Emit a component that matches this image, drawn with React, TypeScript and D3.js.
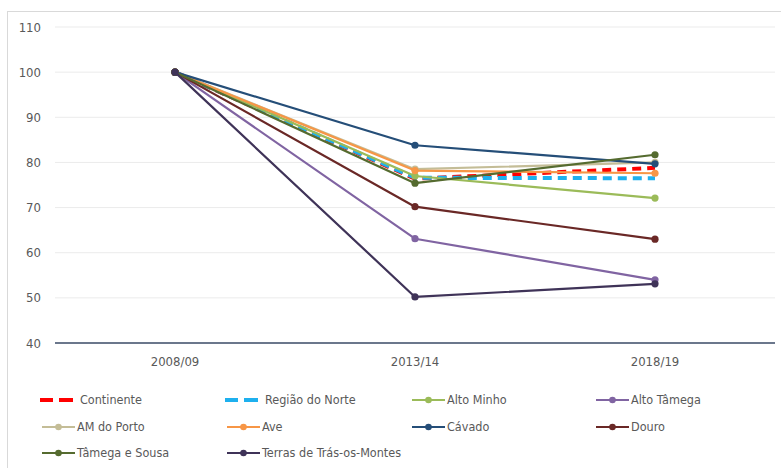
import React from "react";
import * as d3 from "d3";

// Index (2008/09 = 100) by NUTS III region
const periods = ["2008/09", "2013/14", "2018/19"];

const seriesNames = [
  "Continente",
  "Região do Norte",
  "Alto Minho",
  "Alto Tâmega",
  "AM do Porto",
  "Ave",
  "Cávado",
  "Douro",
  "Tâmega e Sousa",
  "Terras de Trás-os-Montes",
];

const continente = [100, 76.4, 78.8];
const regiaoNorte = [100, 76.6, 76.5];
const altoMinho = [100, 77.0, 72.1];
const altoTamega = [100, 63.1, 54.0];
const amPorto = [100, 78.5, 80.0];
const ave = [100, 78.2, 77.6];
const cavado = [100, 83.8, 79.7];
const douro = [100, 70.2, 63.0];
const tamegaSousa = [100, 75.4, 81.7];
const terras = [100, 50.2, 53.1];

const seriesValues = [
  continente,
  regiaoNorte,
  altoMinho,
  altoTamega,
  amPorto,
  ave,
  cavado,
  douro,
  tamegaSousa,
  terras,
];

const seriesColors = [
  "#FF0000",
  "#1EB0EE",
  "#9BBB59",
  "#8064A2",
  "#C4BD97",
  "#F79646",
  "#254E78",
  "#6A2826",
  "#556B2F",
  "#3F3358",
];

const dashedSeries = [true, true, false, false, false, false, false, false, false, false];

const yTicks = [40, 50, 60, 70, 80, 90, 100, 110];

const W = 781;
const H = 468;
const FONT = "'Liberation Sans Narrow', 'DejaVu Sans Condensed', 'Roboto', sans-serif";
const TEXT = "#595959";

export default function App() {
  const x = d3.scaleBand<string>().domain(periods).range([55, 775]);
  const y = d3.scaleLinear().domain([40, 110]).range([343, 27]);
  const cx = (p: string) => (x(p) as number) + x.bandwidth() / 2;

  const line = d3
    .line<number>()
    .x((_, i) => cx(periods[i]))
    .y((v) => y(v));

  const legendCols = [40, 225, 410, 594];
  const legendRows = [400, 427, 453];

  return (
    <svg
      width={W}
      height={H}
      style={{ position: "absolute", left: 0, top: 0, background: "#fff" }}
      fontFamily={FONT}
    >
      <rect x={7.5} y={11.5} width={800} height={470} fill="#fff" stroke="#D9D9D9" strokeWidth={1} />

      {yTicks.map((t) => (
        <g key={t}>
          {t > 40 && (
            <line x1={55} x2={775} y1={y(t)} y2={y(t)} stroke="#EBEBEB" strokeWidth={1} />
          )}
          <text x={41} y={y(t)} dy="0.35em" textAnchor="end" fontSize={13} fill={TEXT}>
            {t}
          </text>
        </g>
      ))}

      <line x1={55} x2={775} y1={y(40)} y2={y(40)} stroke="#3A4A66" strokeWidth={1.3} />

      {periods.map((p) => (
        <text key={p} x={cx(p)} y={366} textAnchor="middle" fontSize={13} fill={TEXT}>
          {p}
        </text>
      ))}

      {seriesValues.map((vals, i) => {
        const dashed = dashedSeries[i];
        return (
          <g key={seriesNames[i]}>
            <path
              d={line(vals) as string}
              fill="none"
              stroke={seriesColors[i]}
              strokeWidth={dashed ? 4 : 2.2}
              strokeDasharray={dashed ? "9,6" : undefined}
              strokeLinejoin="round"
            />
            {!dashed &&
              vals.map((v, k) => (
                <circle key={k} cx={cx(periods[k])} cy={y(v)} r={3.6} fill={seriesColors[i]} />
              ))}
          </g>
        );
      })}

      {seriesNames.map((name, i) => {
        const lx = legendCols[i % 4];
        const ly = legendRows[Math.floor(i / 4)];
        const dashed = dashedSeries[i];
        return (
          <g key={name}>
            {dashed ? (
              <>
                <line x1={lx} x2={lx + 13} y1={ly} y2={ly} stroke={seriesColors[i]} strokeWidth={4} />
                <line x1={lx + 19} x2={lx + 33} y1={ly} y2={ly} stroke={seriesColors[i]} strokeWidth={4} />
              </>
            ) : (
              <>
                <line x1={lx + 2} x2={lx + 35} y1={ly} y2={ly} stroke={seriesColors[i]} strokeWidth={2.2} />
                <circle cx={lx + 18.5} cy={ly} r={3.3} fill={seriesColors[i]} />
              </>
            )}
            <text x={lx + (dashed ? 40 : 37)} y={ly} dy="0.35em" fontSize={12.5} fill={TEXT}>
              {name}
            </text>
          </g>
        );
      })}
    </svg>
  );
}
